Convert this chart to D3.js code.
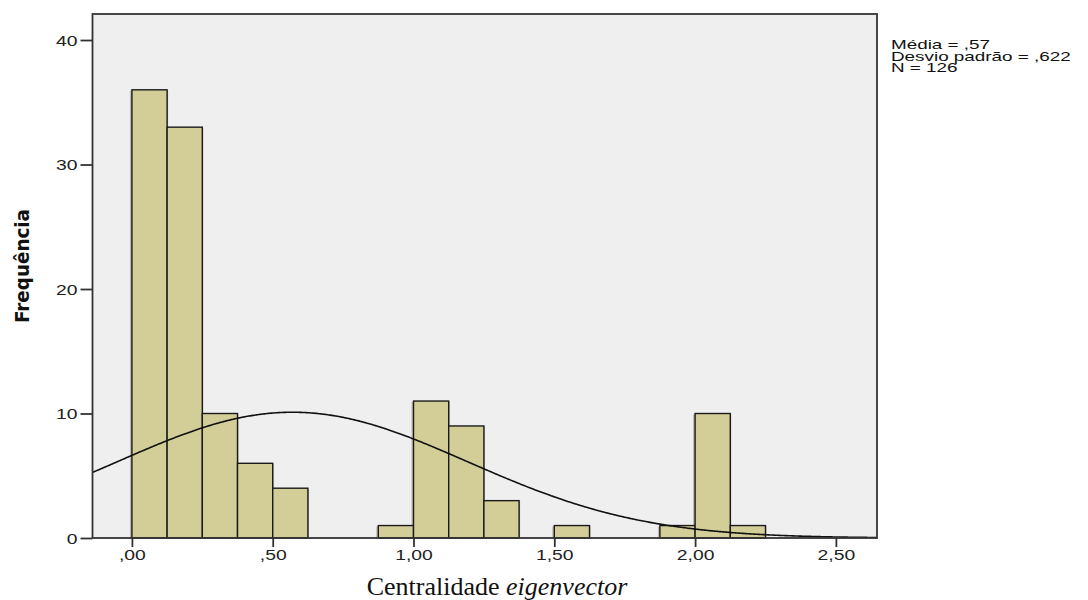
<!DOCTYPE html>
<html>
<head>
<meta charset="utf-8">
<script src="https://cdn.jsdelivr.net/npm/d3@7"></script>
<style>
  html, body { margin: 0; padding: 0; background: #fff; }
  svg { display: block; }
</style>
</head>
<body>
<svg id="chart" width="1088" height="600"></svg>
<script>
// ---- data ----
const binWidth = 0.125;
const binStarts = [0, 0.125, 0.25, 0.375, 0.5, 0.875, 1.0, 1.125, 1.25, 1.5, 1.875, 2.0, 2.125];
const counts    = [36, 33, 10, 6, 4, 1, 11, 9, 3, 1, 1, 10, 1];
const xTicks = [0, 0.5, 1.0, 1.5, 2.0, 2.5];
const yTicks = [0, 10, 20, 30, 40];
const statMean = 0.57;
const statSd = 0.622;
const statN = 126;
const legendLines = ["Média = ,57", "Desvio padrão = ,622", "N = 126"];
const xTitle = "Centralidade ";
const xTitleItalic = "eigenvector";
const yTitle = "Frequência";

// ---- layout ----
const svg = d3.select("#chart");
const L = 92.5, T = 14, R = 877, B = 538;
const x = d3.scaleLinear().domain([-0.14, 2.646]).range([L, R]);
const y = d3.scaleLinear().domain([0, 42.09]).range([B, T]);
const STRETCH = 1.38;

// plot background
svg.append("rect").attr("x", L).attr("y", T).attr("width", R - L).attr("height", B - T)
  .attr("fill", "#efefef");

svg.append("clipPath").attr("id", "clip")
  .append("rect").attr("x", L).attr("y", T).attr("width", R - L).attr("height", B - T);

const bars = binStarts.map((s, i) => ({ x0: s, x1: s + binWidth, c: counts[i] }));

// bar shadows
svg.append("g").selectAll("rect").data(bars).join("rect")
  .attr("x", d => x(d.x0) - 2)
  .attr("y", d => y(d.c) + 1)
  .attr("width", d => x(d.x1) - x(d.x0) + 3)
  .attr("height", d => B - y(d.c) - 1)
  .attr("fill", "#8f8f80").attr("opacity", 0.55);

// bars
svg.append("g").selectAll("rect").data(bars).join("rect")
  .attr("x", d => x(d.x0))
  .attr("y", d => y(d.c))
  .attr("width", d => x(d.x1) - x(d.x0))
  .attr("height", d => B - y(d.c))
  .attr("fill", "#d3ce97")
  .attr("stroke", "#1a1a1a").attr("stroke-width", 1.4);

// normal curve
const xs = d3.range(-0.14, 2.65, 0.005);
const scaleF = statN * binWidth / (statSd * Math.sqrt(2 * Math.PI));
const curve = xs.map(v => [v, scaleF * Math.exp(-0.5 * Math.pow((v - statMean) / statSd, 2))]);
svg.append("path").datum(curve)
  .attr("clip-path", "url(#clip)")
  .attr("fill", "none").attr("stroke", "#111").attr("stroke-width", 1.6)
  .attr("d", d3.line().x(d => x(d[0])).y(d => y(d[1])).curve(d3.curveBasis));

// frame
svg.append("rect").attr("x", L).attr("y", T).attr("width", R - L).attr("height", B - T)
  .attr("fill", "none").attr("stroke", "#333").attr("stroke-width", 1.8);

function stretch(sel, f) {
  sel.each(function () {
    const w = this.getComputedTextLength();
    d3.select(this).attr("textLength", w * f).attr("lengthAdjust", "spacingAndGlyphs");
  });
}

// axes
const fmtX = v => d3.format(".2f")(v).replace(".", ",").replace(/^0,/, ",");
const xAxis = svg.append("g").attr("transform", `translate(0,${B})`)
  .call(d3.axisBottom(x).tickValues(xTicks).tickFormat(fmtX).tickSize(9).tickPadding(3));
const yAxis = svg.append("g").attr("transform", `translate(${L},0)`)
  .call(d3.axisLeft(y).tickValues(yTicks).tickFormat(d3.format("d")).tickSize(12).tickPadding(3));
[xAxis, yAxis].forEach(a => {
  a.select(".domain").remove();
  a.selectAll(".tick line").attr("stroke", "#333").attr("stroke-width", 1.8);
  a.selectAll(".tick text")
    .attr("fill", "#222")
    .style("font-family", "'Liberation Sans', Arial, sans-serif")
    .style("font-size", "14px");
  stretch(a.selectAll(".tick text"), STRETCH);
});
yAxis.selectAll(".tick text").attr("dy", "0.36em");

// legend
legendLines.forEach((t, i) => {
  const tx = svg.append("text")
    .attr("x", 891).attr("y", 49 + i * 11.5)
    .style("font-family", "'Liberation Sans', Arial, sans-serif")
    .style("font-size", "13px")
    .attr("fill", "#111")
    .text(t);
  stretch(tx, 1.45);
});

// x title
const xt = svg.append("text")
  .attr("x", 497).attr("y", 595)
  .attr("text-anchor", "middle")
  .style("font-family", "'Liberation Serif', 'Times New Roman', serif")
  .style("font-size", "26px")
  .attr("fill", "#111");
xt.append("tspan").text(xTitle);
xt.append("tspan").style("font-style", "italic").text(xTitleItalic);

// y title
svg.append("text")
  .attr("transform", "translate(29,266) rotate(-90)")
  .attr("text-anchor", "middle")
  .attr("textLength", 114).attr("lengthAdjust", "spacingAndGlyphs")
  .style("font-family", "'Liberation Sans Narrow', 'DejaVu Sans Condensed', 'Liberation Sans', sans-serif")
  .style("font-weight", "bold")
  .style("font-size", "19px")
  .attr("fill", "#111")
  .text(yTitle);
</script>
</body>
</html>
